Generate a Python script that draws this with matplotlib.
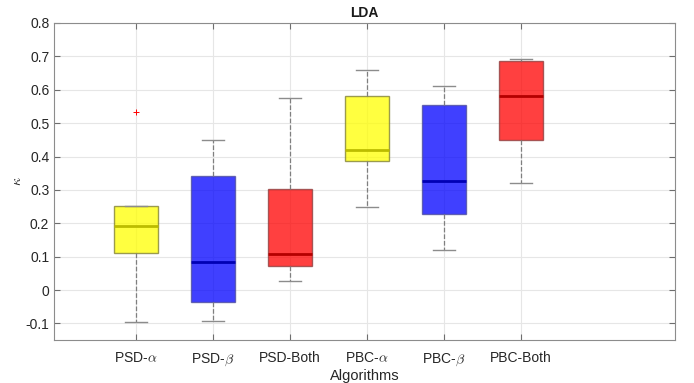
import numpy as np
import matplotlib
matplotlib.use('Agg')
import matplotlib.pyplot as plt

plt.rcParams['font.family'] = ['Liberation Sans', 'DejaVu Sans']
plt.rcParams['mathtext.fontset'] = 'cm'

# box statistics
labels = [r'PSD-$\alpha$', r'PSD-$\beta$', 'PSD-Both', r'PBC-$\alpha$', r'PBC-$\beta$', 'PBC-Both']
whislo = [-0.096, -0.093, 0.026, 0.249, 0.120, 0.320]
q1 = [0.110, -0.037, 0.073, 0.387, 0.229, 0.449]
med = [0.193, 0.084, 0.108, 0.420, 0.327, 0.581]
q3 = [0.252, 0.342, 0.302, 0.582, 0.555, 0.687]
whishi = [0.252, 0.449, 0.574, 0.658, 0.610, 0.691]
fliers = [[0.532], [], [], [], [], []]

colors = ['yellow', 'blue', 'red', 'yellow', 'blue', 'red']
med_colors = {'yellow': '#bcbc00', 'blue': '#0000b4', 'red': '#b40000'}
edge_colors = {'yellow': '#7a7a30', 'blue': '#4a4a9a', 'red': '#8a3a3a'}

stats = []
for i in range(len(labels)):
    stats.append(dict(label=labels[i], whislo=whislo[i], q1=q1[i], med=med[i],
                      q3=q3[i], whishi=whishi[i], fliers=fliers[i]))

fig = plt.figure(figsize=(6.94, 3.83), dpi=100)
ax = fig.add_axes([0.078, 0.112, 0.895, 0.828])

bp = ax.bxp(stats, positions=np.arange(1, 7), widths=0.57, patch_artist=True,
            showfliers=True,
            whiskerprops=dict(color='#7f7f7f', linestyle='--', linewidth=0.9),
            capprops=dict(color='#8c8c8c', linewidth=1.0),
            flierprops=dict(marker='+', markeredgecolor='red', markersize=4, linewidth=0,
                            markeredgewidth=0.7),
            medianprops=dict(linewidth=2))

for patch, med_line, c in zip(bp['boxes'], bp['medians'], colors):
    patch.set_facecolor(c)
    patch.set_alpha(0.75)
    patch.set_edgecolor(edge_colors[c])
    patch.set_linewidth(1.0)
    med_line.set_color(med_colors[c])

ax.set_xlim(-0.06, 8.0)
ax.set_ylim(-0.15, 0.8)
ax.set_yticks(np.arange(-0.1, 0.81, 0.1))
ax.set_yticklabels(['-0.1', '0', '0.1', '0.2', '0.3', '0.4', '0.5', '0.6', '0.7', '0.8'])
ax.set_xticks(np.arange(1, 7))
ax.set_xticklabels(labels)

ax.grid(True, color='#e6e6e6', linewidth=0.8)
ax.set_axisbelow(True)
for s in ax.spines.values():
    s.set_color('#8c8c8c')
    s.set_linewidth(0.8)
ax.tick_params(direction='in', top=True, right=True, length=4, colors='#6e6e6e',
               labelcolor='#262626', labelsize=10)
ax.tick_params(axis='x', pad=8)

ax.set_title('LDA', fontsize=10, fontweight='bold', color='#1a1a1a', pad=4)
ax.set_xlabel('Algorithms', fontsize=10.5, color='#262626', labelpad=1)
ax.set_ylabel(r'$\kappa$', fontsize=10, color='#262626', labelpad=1)

fig.savefig('out.png', dpi=100)
